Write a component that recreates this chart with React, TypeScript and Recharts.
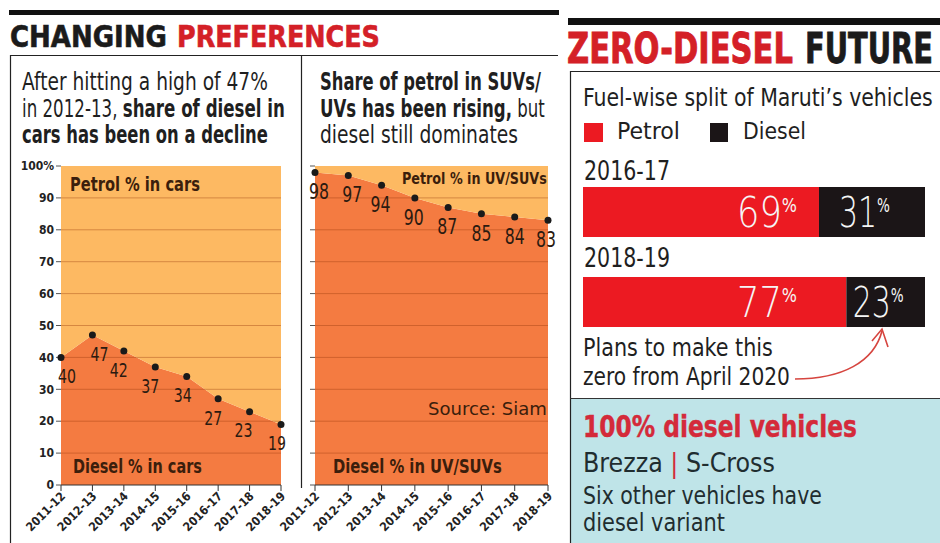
import React from 'react';
import {
  ComposedChart,
  Area,
  Line,
  XAxis,
  YAxis,
  ReferenceLine,
  LabelList,
  BarChart,
  Bar,
} from 'recharts';

// ---------- data ----------
const years = ['2011-12', '2012-13', '2013-14', '2014-15', '2015-16', '2016-17', '2017-18', '2018-19'];
const carDieselShare = [40, 47, 42, 37, 34, 27, 23, 19];
const uvDieselShare = [98, 97, 94, 90, 87, 85, 84, 83];
const shareTicks = [0, 10, 20, 30, 40, 50, 60, 70, 80, 90, 100];
const gridLevels = [10, 20, 30, 40, 50, 60, 70, 80, 90];
const marutiYears = ['2016-17', '2018-19'];
const marutiPetrol = [69, 77];
const marutiDiesel = [31, 23];

const carData = years.map((year, i) => ({ year, diesel: carDieselShare[i], petrol: 100 - carDieselShare[i] }));
const uvData = years.map((year, i) => ({ year, diesel: uvDieselShare[i], petrol: 100 - uvDieselShare[i] }));
const marutiData = marutiYears.map((year, i) => ({ year, petrol: marutiPetrol[i], diesel: marutiDiesel[i] }));

// ---------- styles ----------
const FONT = "'DejaVu Sans Condensed', 'DejaVu Sans', sans-serif";
const LIGHT = "'DejaVu Sans', 'DejaVu Sans Condensed', sans-serif";
const PETROL = '#FDB962';
const DIESEL = '#F47B41';
const GRID = 'rgba(150,55,10,0.38)';
const RED = '#D42027';
const BAR_RED = '#EC1A22';
const BAR_BLACK = '#1B1517';
const TXT = '#1f1f1f';
const INNER = '#3b1e0c';

const carLabelDx = [6, 7, -5, -5, -4, -5, -6, -4];
const uvLabelDx = [4, 4, -1, -1, -1, 0, 0, -2];

// Text that is horizontally scaled (as a condensed face) to a target width.
function FitText({ x, y, len, size, weight = 400, fill = TXT, stroke, family = FONT, anchor = 'start', children }: any) {
  const ref = React.useRef<SVGTextElement>(null);
  const [sx, setSx] = React.useState(1);
  React.useLayoutEffect(() => {
    if (ref.current) {
      const w = ref.current.getComputedTextLength();
      if (w > 0) setSx(len / w);
    }
  }, [len]);
  return (
    <text
      ref={ref}
      transform={`translate(${x},${y}) scale(${sx},1)`}
      x={0}
      y={0}
      textAnchor={anchor}
      fontSize={size}
      fontWeight={weight}
      fill={fill}
      stroke={stroke ? fill : undefined}
      strokeWidth={stroke || undefined}
      fontFamily={family}
    >
      {children}
    </text>
  );
}

const XTick = (props: any) => {
  const { x, y, payload } = props;
  return (
    <g transform={`translate(${x + 2},${y + 1})`}>
      <text x={0} y={0} dy="0.35em" textAnchor="end" transform="rotate(-45)" fontSize={12} fontWeight={700} fontFamily={FONT} fill="#222">
        {payload.value}
      </text>
    </g>
  );
};

const pointLabel = (size: number, len: number, dxs: number[]) => (props: any) => {
  const { x, y, value, index } = props;
  return (
    <FitText x={Number(x) + dxs[index]} y={Number(y) + 19 + size * 0.36} len={len} size={size} fill="#2b1a10" anchor="middle">
      {value}
    </FitText>
  );
};

const PctText = ({ x, y, len, value }: any) => (
  <FitText x={x} y={y} len={len} size={42} weight={300} family={LIGHT} fill="#f5f5f5">
    <tspan>{value}</tspan>
    <tspan fontSize={19} fontWeight={400} dy={-15}>%</tspan>
  </FitText>
);

const petrolPct = (props: any) => {
  const { x, y, value } = props;
  return <PctText x={Number(x) + 154} y={Number(y) + 40} len={60} value={value} />;
};

const dieselPct = (props: any) => {
  const { x, y, width, value } = props;
  return <PctText x={Number(x) + Number(width) / 2 - 33} y={Number(y) + 40} len={51} value={value} />;
};

function ShareChart({ data, width, yAxisWidth, marginRight, showLabels, labelSize, labelLen, labelDx }: any) {
  return (
    <ComposedChart width={width} height={384} data={data} margin={{ top: 10, right: marginRight, bottom: 0, left: 0 }}>
      <XAxis
        dataKey="year"
        scale="point"
        padding={{ left: 0, right: 0 }}
        height={55}
        interval={0}
        tick={<XTick />}
        tickSize={6}
        tickLine={{ stroke: '#333' }}
        axisLine={{ stroke: '#333' }}
      />
      <YAxis
        type="number"
        domain={[0, 100]}
        ticks={shareTicks}
        interval={0}
        width={yAxisWidth}
        axisLine={false}
        tickSize={5}
        tickLine={{ stroke: '#555' }}
        tickFormatter={(v: number) => (showLabels ? (v === 100 ? '100%' : String(v)) : '')}
        tick={{ fontSize: 12, fontWeight: 700, fill: '#222', fontFamily: FONT }}
      />
      <Area dataKey="diesel" stackId="s" type="linear" fill={DIESEL} fillOpacity={1} stroke="none" isAnimationActive={false} />
      <Area dataKey="petrol" stackId="s" type="linear" fill={PETROL} fillOpacity={1} stroke="none" isAnimationActive={false} />
      {gridLevels.map((v) => (
        <ReferenceLine key={v} y={v} stroke={GRID} strokeWidth={1} />
      ))}
      <Line dataKey="diesel" type="linear" stroke="none" dot={{ r: 3.5, fill: '#1a1a1a', stroke: 'none' }} activeDot={false} isAnimationActive={false}>
        <LabelList dataKey="diesel" content={pointLabel(labelSize, labelLen, labelDx)} />
      </Line>
    </ComposedChart>
  );
}

export default function App() {
  return (
    <div style={{ position: 'absolute', left: 0, top: 0, width: 940, height: 543, background: '#fff', overflow: 'hidden' }}>
      {/* background layer */}
      <svg width={940} height={543} style={{ position: 'absolute', left: 0, top: 0 }}>
        <rect x={571} y={398} width={369} height={145} fill="#BFE4E8" />
      </svg>

      <div style={{ position: 'absolute', left: 0, top: 156 }}>
        <ShareChart data={carData} width={300} yAxisWidth={61} marginRight={19} showLabels labelSize={19} labelLen={18} labelDx={carLabelDx} />
      </div>
      <div style={{ position: 'absolute', left: 270, top: 156 }}>
        <ShareChart data={uvData} width={290} yAxisWidth={45} marginRight={12} showLabels={false} labelSize={22} labelLen={20} labelDx={uvLabelDx} />
      </div>

      <div style={{ position: 'absolute', left: 583, top: 167 }}>
        <BarChart layout="vertical" width={342} height={180} data={marutiData} margin={{ top: 0, right: 0, bottom: 0, left: 0 }} barSize={50}>
          <XAxis type="number" domain={[0, 100]} hide />
          <YAxis type="category" dataKey="year" hide />
          <Bar dataKey="petrol" stackId="m" fill={BAR_RED} isAnimationActive={false}>
            <LabelList dataKey="petrol" content={petrolPct} />
          </Bar>
          <Bar dataKey="diesel" stackId="m" fill={BAR_BLACK} isAnimationActive={false}>
            <LabelList dataKey="diesel" content={dieselPct} />
          </Bar>
        </BarChart>
      </div>

      {/* text & frame overlay */}
      <svg width={940} height={543} style={{ position: 'absolute', left: 0, top: 0, pointerEvents: 'none' }}>
        {/* left block frame */}
        <rect x={9} y={10} width={550} height={5} fill="#111" />
        <line x1={10} y1={55.5} x2={558} y2={55.5} stroke="#222" strokeWidth={1.2} />
        <line x1={10.5} y1={55} x2={10.5} y2={543} stroke="#222" strokeWidth={1.2} />
        <line x1={301.5} y1={55} x2={301.5} y2={488} stroke="#222" strokeWidth={1.2} />

        <FitText x={10} y={47} size={31} weight={700} len={157} fill="#1b1b1b" stroke={0.6}>CHANGING</FitText>
        <FitText x={177} y={47} size={31} weight={700} len={203} fill={RED} stroke={0.6}>PREFERENCES</FitText>

        <FitText x={22} y={90} size={24} len={246}>After hitting a high of 47%</FitText>
        <FitText x={22} y={117} size={24} len={263}>
          in 2012-13, <tspan fontWeight={700}>share of diesel in</tspan>
        </FitText>
        <FitText x={22} y={143} size={24} weight={700} len={246}>cars has been on a decline</FitText>

        <FitText x={320} y={90} size={24} weight={700} len={221}>Share of petrol in SUVs/</FitText>
        <FitText x={320} y={117} size={24} len={225}>
          <tspan fontWeight={700}>UVs has been rising,</tspan> but
        </FitText>
        <FitText x={320} y={143} size={24} len={198}>diesel still dominates</FitText>

        <FitText x={70} y={191} size={19} weight={700} len={130} fill={INNER}>Petrol % in cars</FitText>
        <FitText x={73} y={473} size={19} weight={700} len={129} fill={INNER}>Diesel % in cars</FitText>
        <FitText x={402} y={184} size={15} weight={700} len={145} fill={INNER}>Petrol % in UV/SUVs</FitText>
        <FitText x={428} y={415} size={17} len={119} fill={INNER}>Source: Siam</FitText>
        <FitText x={333} y={473} size={19} weight={700} len={169} fill={INNER}>Diesel % in UV/SUVs</FitText>

        {/* right block frame */}
        <rect x={568} y={18} width={372} height={7} fill="#111" />
        <line x1={570} y1={71.5} x2={940} y2={71.5} stroke="#222" strokeWidth={1.2} />
        <line x1={570.5} y1={71} x2={570.5} y2={543} stroke="#222" strokeWidth={1.2} />
        <line x1={570} y1={398.5} x2={940} y2={398.5} stroke="#333" strokeWidth={1.2} />

        <FitText x={567} y={63} size={42} weight={700} len={226} fill={RED} stroke={0.8}>ZERO-DIESEL</FitText>
        <FitText x={805} y={63} size={42} weight={700} len={128} fill="#1b1b1b" stroke={0.8}>FUTURE</FitText>

        <FitText x={583} y={106} size={24} len={350}>Fuel-wise split of Maruti’s vehicles</FitText>
        <rect x={584} y={123} width={19} height={19} fill={BAR_RED} />
        <FitText x={617} y={139} size={23} len={63}>Petrol</FitText>
        <rect x={710} y={123} width={18} height={19} fill={BAR_BLACK} />
        <FitText x={743} y={139} size={23} len={63}>Diesel</FitText>

        <FitText x={584} y={180} size={26} len={86}>{marutiYears[0]}</FitText>
        <FitText x={584} y={267} size={26} len={86}>{marutiYears[1]}</FitText>

        <FitText x={583} y={356} size={24} len={190}>Plans to make this</FitText>
        <FitText x={583} y={385} size={24} len={207}>zero from April 2020</FitText>
        <path d="M795,379 C842,379 874,362 882,331" fill="none" stroke="#D6453F" strokeWidth={1.6} />
        <path d="M872,341 L882,329 L888,347" fill="none" stroke="#D6453F" strokeWidth={1.6} />

        <FitText x={583} y={437} size={31} weight={700} len={274} fill="#D42A3A" stroke={0.4}>100% diesel vehicles</FitText>
        <FitText x={583} y={472} size={27} len={192} fill="#1f2d30">
          Brezza <tspan fill="#D42A3A">|</tspan> S-Cross
        </FitText>
        <FitText x={583} y={504} size={24} len={239} fill="#1f2d30">Six other vehicles have</FitText>
        <FitText x={583} y={531} size={24} len={142} fill="#1f2d30">diesel variant</FitText>
      </svg>
    </div>
  );
}
